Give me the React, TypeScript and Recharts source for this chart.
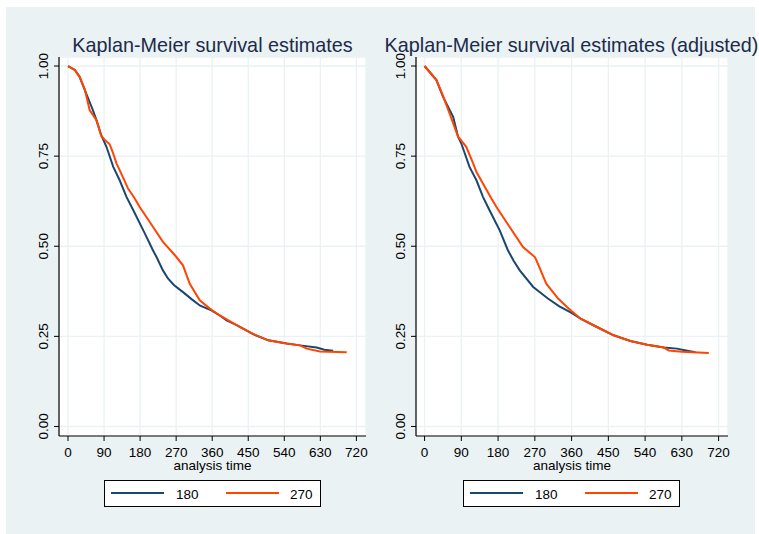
import { LineChart, Line, XAxis, YAxis, CartesianGrid } from 'recharts';

// tick labels and categories
const xTicks = [0, 90, 180, 270, 360, 450, 540, 630, 720];
const yTicks = [0, 0.25, 0.5, 0.75, 1];
const groups = ['180', '270'];
const titles = ['Kaplan-Meier survival estimates', 'Kaplan-Meier survival estimates (adjusted)'];

// unadjusted estimates, group 180
const rawTime180 = [0, 17, 29, 42, 62, 71, 83, 96, 113, 129, 146, 163, 192, 212, 221, 237, 250, 265, 288, 310, 330, 358, 379, 396, 421, 462, 500, 546, 579, 621, 640, 662];
const rawSurv180 = [1, 0.989, 0.97, 0.933, 0.878, 0.85, 0.808, 0.776, 0.72, 0.683, 0.637, 0.6, 0.535, 0.489, 0.47, 0.433, 0.41, 0.392, 0.372, 0.352, 0.335, 0.322, 0.308, 0.294, 0.281, 0.256, 0.239, 0.23, 0.225, 0.219, 0.213, 0.21];

// unadjusted estimates, group 270
const rawTime270 = [0, 17, 29, 42, 54, 71, 83, 92, 104, 112, 121, 129, 150, 167, 179, 212, 237, 267, 287, 304, 329, 354, 379, 421, 462, 500, 546, 579, 596, 629, 696];
const rawSurv270 = [1, 0.989, 0.97, 0.935, 0.878, 0.85, 0.806, 0.795, 0.783, 0.76, 0.73, 0.711, 0.66, 0.632, 0.609, 0.554, 0.512, 0.475, 0.447, 0.396, 0.35, 0.327, 0.308, 0.281, 0.257, 0.239, 0.23, 0.225, 0.216, 0.208, 0.206];

// adjusted estimates, group 180
const adjTime180 = [0, 29, 45, 70, 82, 90, 110, 127, 143, 159, 184, 204, 218, 233, 266, 302, 330, 360, 382, 422, 463, 504, 545, 586, 618, 640, 663];
const adjSurv180 = [1, 0.961, 0.915, 0.859, 0.804, 0.785, 0.72, 0.683, 0.637, 0.6, 0.544, 0.489, 0.46, 0.433, 0.387, 0.355, 0.333, 0.315, 0.299, 0.276, 0.253, 0.237, 0.227, 0.219, 0.216, 0.211, 0.206];

// adjusted estimates, group 270
const adjTime270 = [0, 29, 45, 61, 82, 92, 102, 119, 127, 164, 176, 208, 241, 270, 274, 298, 327, 350, 382, 422, 463, 504, 545, 586, 598, 630, 696];
const adjSurv270 = [1, 0.961, 0.918, 0.869, 0.804, 0.79, 0.776, 0.73, 0.706, 0.632, 0.609, 0.554, 0.498, 0.47, 0.461, 0.396, 0.355, 0.33, 0.299, 0.276, 0.253, 0.237, 0.227, 0.219, 0.211, 0.207, 0.204];

const NAVY = '#1a476f';
const ORANGE = '#ff4500';
const BG = '#eaf2f3';
const FONT = '"Liberation Sans", Arial, sans-serif';

const toPoints = (t: number[], s: number[]) => t.map((v, i) => ({ t: v, s: s[i] }));

const XTick = (props: any) => {
  const { x, y, payload } = props;
  return (
    <text x={x} y={y + 14} textAnchor="middle" fontSize={13.5} fontFamily={FONT} fill="#000">
      {payload.value}
    </text>
  );
};

const YTick = (props: any) => {
  const { x, y, payload } = props;
  const bx = x - 4;
  return (
    <text
      x={bx}
      y={y}
      transform={`rotate(-90 ${bx} ${y})`}
      textAnchor="middle"
      fontSize={13.5}
      fontFamily={FONT}
      fill="#000"
    >
      {payload.value.toFixed(2)}
    </text>
  );
};

interface PanelProps {
  left: number;
  width: number;
  yAxisWidth: number;
  marginRight: number;
  xDomain: [number, number];
  blue: { t: number; s: number }[];
  orange: { t: number; s: number }[];
}

function Panel({ left, width, yAxisWidth, marginRight, xDomain, blue, orange }: PanelProps) {
  return (
    <div style={{ position: 'absolute', left, top: 0 }}>
      <LineChart width={width} height={534} margin={{ top: 57, right: marginRight, bottom: 58, left: 0 }}>
        <CartesianGrid fill="#fff" fillOpacity={1} stroke={BG} strokeWidth={1.3} />
        <XAxis
          type="number"
          dataKey="t"
          domain={xDomain}
          ticks={xTicks}
          allowDataOverflow
          height={40}
          tickSize={5}
          tick={<XTick />}
          axisLine={{ stroke: '#000', strokeWidth: 1.2 }}
          tickLine={{ stroke: '#000' }}
          label={{
            content: (p: any) => (
              <text
                x={p.viewBox.x + p.viewBox.width / 2}
                y={470}
                textAnchor="middle"
                fontSize={13.5}
                fontFamily={FONT}
                fill="#000"
              >
                analysis time
              </text>
            ),
          }}
        />
        <YAxis
          type="number"
          domain={[-0.0264, 1.025]}
          ticks={yTicks}
          allowDataOverflow
          width={yAxisWidth}
          tickSize={5}
          tick={<YTick />}
          axisLine={{ stroke: '#000', strokeWidth: 1.2 }}
          tickLine={{ stroke: '#000' }}
        />
        <Line data={blue} dataKey="s" name={groups[0]} stroke={NAVY} strokeWidth={2} dot={false} isAnimationActive={false} />
        <Line data={orange} dataKey="s" name={groups[1]} stroke={ORANGE} strokeWidth={2} dot={false} isAnimationActive={false} />
      </LineChart>
    </div>
  );
}

function LegendBox({ x }: { x: number }) {
  return (
    <g>
      <rect x={x + 0.5} y={480.5} width={216} height={26} fill="#fff" stroke="#000" strokeWidth={1} />
      <line x1={x + 7} x2={x + 60} y1={493} y2={493} stroke={NAVY} strokeWidth={1.8} />
      <text x={x + 72} y={498.5} fontSize={13.5} fontFamily={FONT} fill="#000">{groups[0]}</text>
      <line x1={x + 122} x2={x + 175} y1={493} y2={493} stroke={ORANGE} strokeWidth={1.8} />
      <text x={x + 186} y={498.5} fontSize={13.5} fontFamily={FONT} fill="#000">{groups[1]}</text>
    </g>
  );
}

export default function App() {
  return (
    <div style={{ position: 'absolute', left: 0, top: 0, width: 759, height: 534, background: '#fff', overflow: 'hidden' }}>
      <div style={{ position: 'absolute', left: 6, top: 7, width: 749, height: 527, background: BG }} />
      <Panel
        left={0}
        width={380}
        yAxisWidth={59}
        marginRight={14}
        xDomain={[-22.5, 744]}
        blue={toPoints(rawTime180, rawSurv180)}
        orange={toPoints(rawTime270, rawSurv270)}
      />
      <Panel
        left={380}
        width={379}
        yAxisWidth={36}
        marginRight={31}
        xDomain={[-21, 743]}
        blue={toPoints(adjTime180, adjSurv180)}
        orange={toPoints(adjTime270, adjSurv270)}
      />
      <svg width={759} height={534} style={{ position: 'absolute', left: 0, top: 0, pointerEvents: 'none' }}>
        <text x={212.5} y={51.5} textAnchor="middle" fontSize={19.8} fontFamily={FONT} fill="#1c2b4a">
          {titles[0]}
        </text>
        <text x={571.5} y={51.5} textAnchor="middle" fontSize={19.8} fontFamily={FONT} fill="#1c2b4a">
          {titles[1]}
        </text>
        <LegendBox x={104} />
        <LegendBox x={463} />
      </svg>
    </div>
  );
}
